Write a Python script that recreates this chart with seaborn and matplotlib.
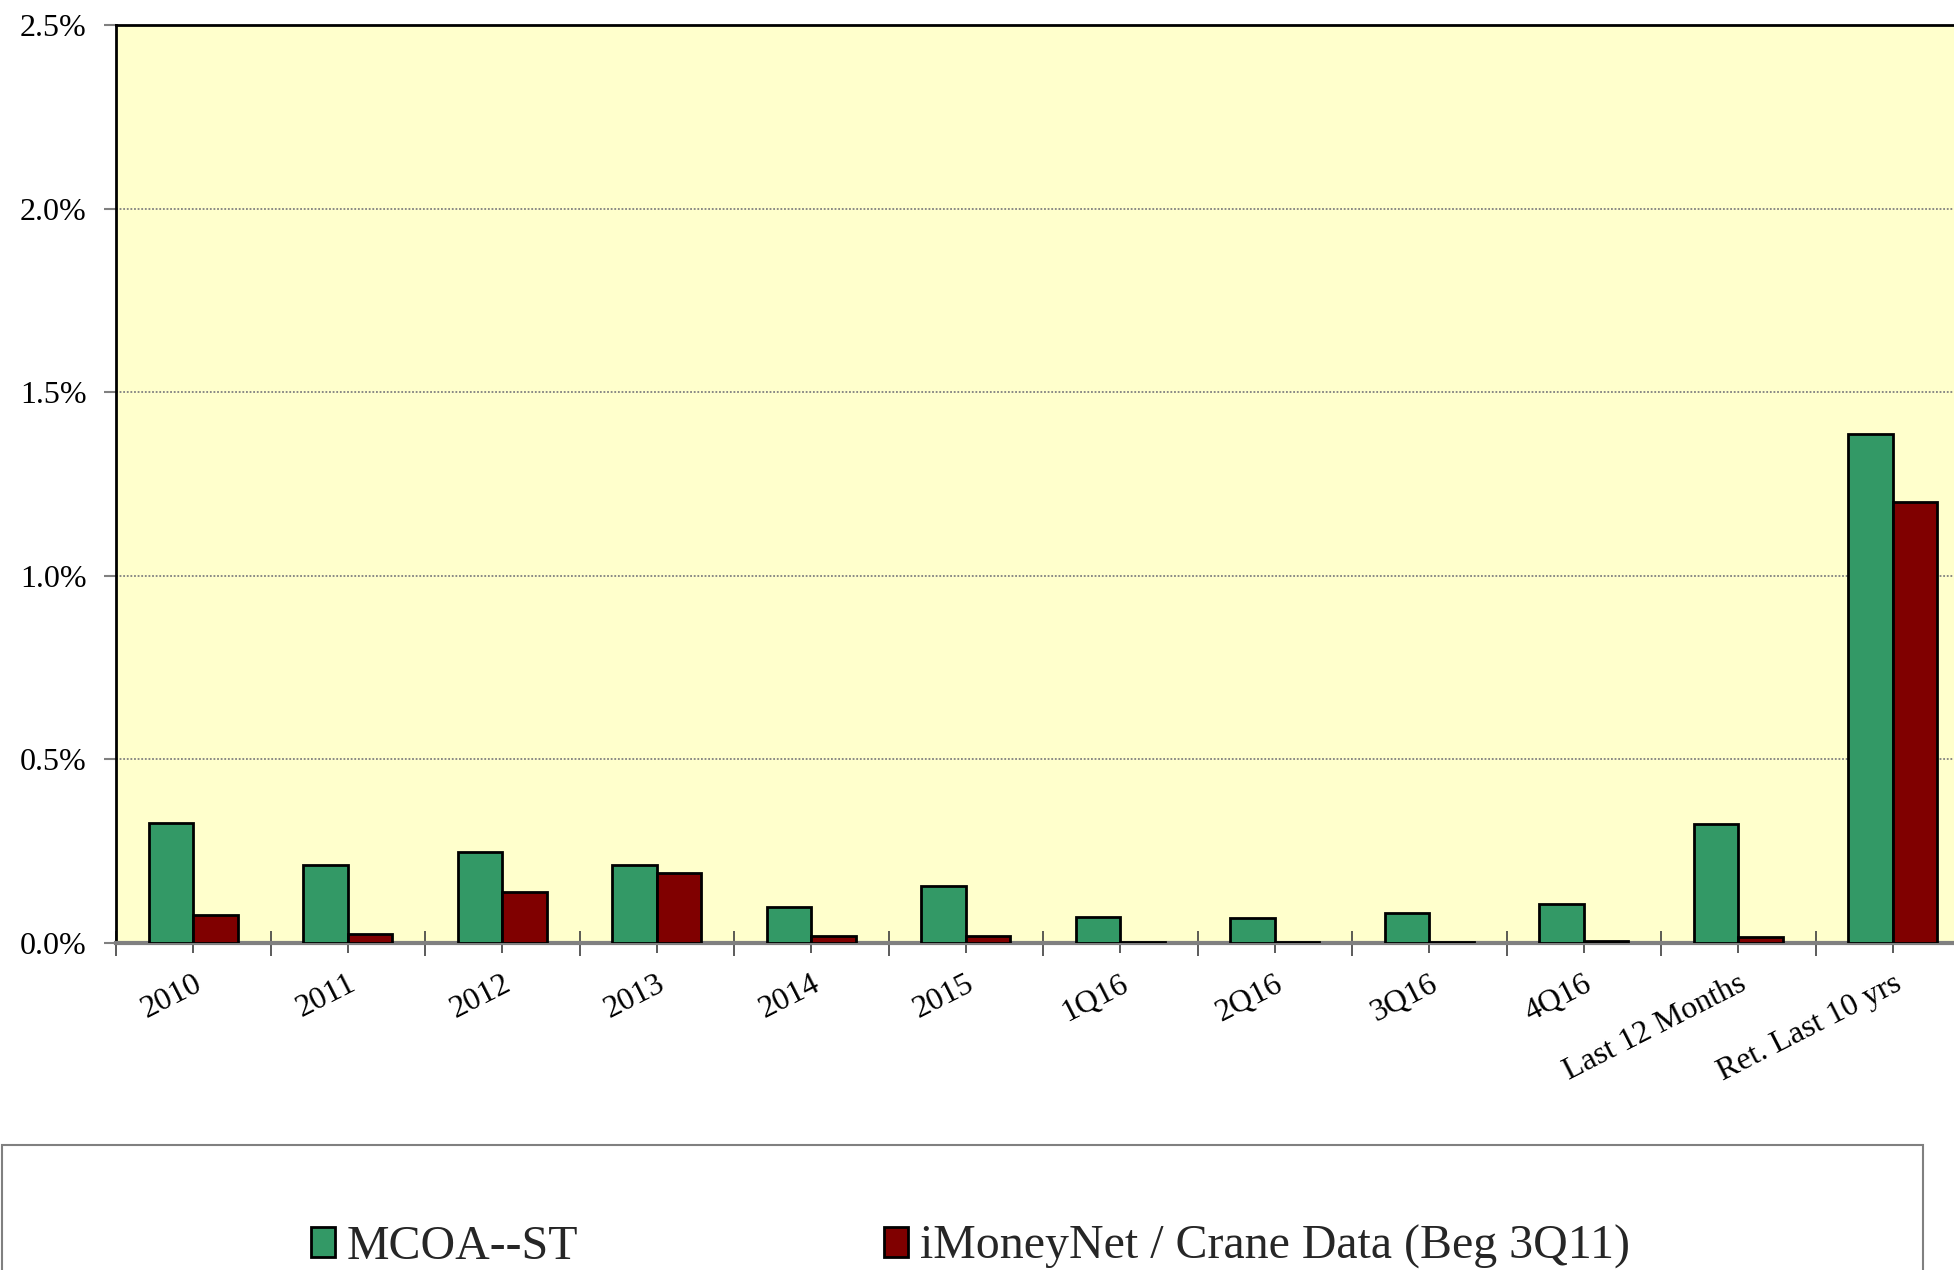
import seaborn as sns
import pandas as pd
import numpy as np
import matplotlib.pyplot as plt
from matplotlib.patches import Rectangle

# categorias y valores (en %)
categorias = ["2010", "2011", "2012", "2013", "2014", "2015",
              "1Q16", "2Q16", "3Q16", "4Q16", "Last 12 Months", "Ret. Last 10 yrs"]
mcoa = [0.327, 0.213, 0.247, 0.212, 0.098, 0.154,
        0.071, 0.068, 0.083, 0.106, 0.324, 1.386]
imoney = [0.077, 0.025, 0.139, 0.190, 0.020, 0.020,
          0.004, 0.003, 0.003, 0.006, 0.016, 1.200]
series = ["MCOA--ST", "iMoneyNet / Crane Data (Beg 3Q11)"]
colores = ["#339966", "#800000"]

df = pd.DataFrame({
    "cat": categorias * 2,
    "val": mcoa + imoney,
    "serie": [series[0]] * len(categorias) + [series[1]] * len(categorias),
})

sns.set_theme(style="white")
plt.rcParams["font.family"] = ["Liberation Serif", "DejaVu Serif"]

fig = plt.figure(figsize=(19.54, 12.70), dpi=100)
# el area del grafico se sale un poco por la derecha, como en el original
ax = fig.add_axes([116 / 1954, 1 - 943 / 1270, (1970 - 116) / 1954, (943 - 25) / 1270])
ax.set_facecolor("#FFFFCC")

sns.barplot(data=df, x="cat", y="val", hue="serie", palette=colores,
            width=0.573, saturation=1, edgecolor="black", linewidth=2, ax=ax)

# barras por encima del eje para que se vean las muy bajas
for p in ax.patches:
    p.set_zorder(3)

handles, labels = ax.get_legend_handles_labels()
ax.get_legend().remove()

ax.set_xlim(-0.5, len(categorias) - 0.5)
ax.set_ylim(0, 2.5)
ax.set_yticks(np.arange(0, 2.51, 0.5))
ax.set_yticklabels([f"{v:.1f}%" for v in np.arange(0, 2.51, 0.5)])
ax.set_xlabel("")
ax.set_ylabel("")

ax.yaxis.grid(True, linestyle=(0, (1, 1)), color="#808080", linewidth=1.3)
ax.set_axisbelow(True)

ax.set_xticks(np.arange(len(categorias)))
ax.set_xticklabels(categorias, rotation=27, ha="right", rotation_mode="anchor")
ax.set_xticks(np.arange(-0.5, len(categorias), 1), minor=True)
ax.tick_params(axis="x", which="major", bottom=True, length=7, width=1.2,
               color="#404040", labelsize=23, pad=12)
ax.tick_params(axis="x", which="minor", bottom=True, direction="inout",
               length=18, width=1.2, color="#404040")
ax.tick_params(axis="y", left=True, length=9, width=1.5, color="#808080",
               labelsize=23, pad=12)
for t in ax.get_xticklabels() + ax.get_yticklabels():
    t.set_color("black")

for lado in ["top", "left"]:
    ax.spines[lado].set_color("black")
    ax.spines[lado].set_linewidth(2)
ax.spines["bottom"].set_color("#808080")
ax.spines["bottom"].set_linewidth(3)
ax.spines["right"].set_visible(False)

# caja de la leyenda (se corta por abajo)
fig.patches.append(Rectangle((2 / 1954, -0.1), (1923 - 2) / 1954, 0.1 + 1 - 1145 / 1270,
                             transform=fig.transFigure, fill=False,
                             edgecolor="#808080", linewidth=1.5))

fig.legend(handles, labels, loc="center left", bbox_to_anchor=(311 / 1954, 1 - 1247 / 1270),
           ncol=2, frameon=False, fontsize=34.5, handlelength=0.5, handleheight=0.6,
           handletextpad=0.25, columnspacing=6.38, borderpad=0, borderaxespad=0)

fig.savefig("out.png", dpi=100)
